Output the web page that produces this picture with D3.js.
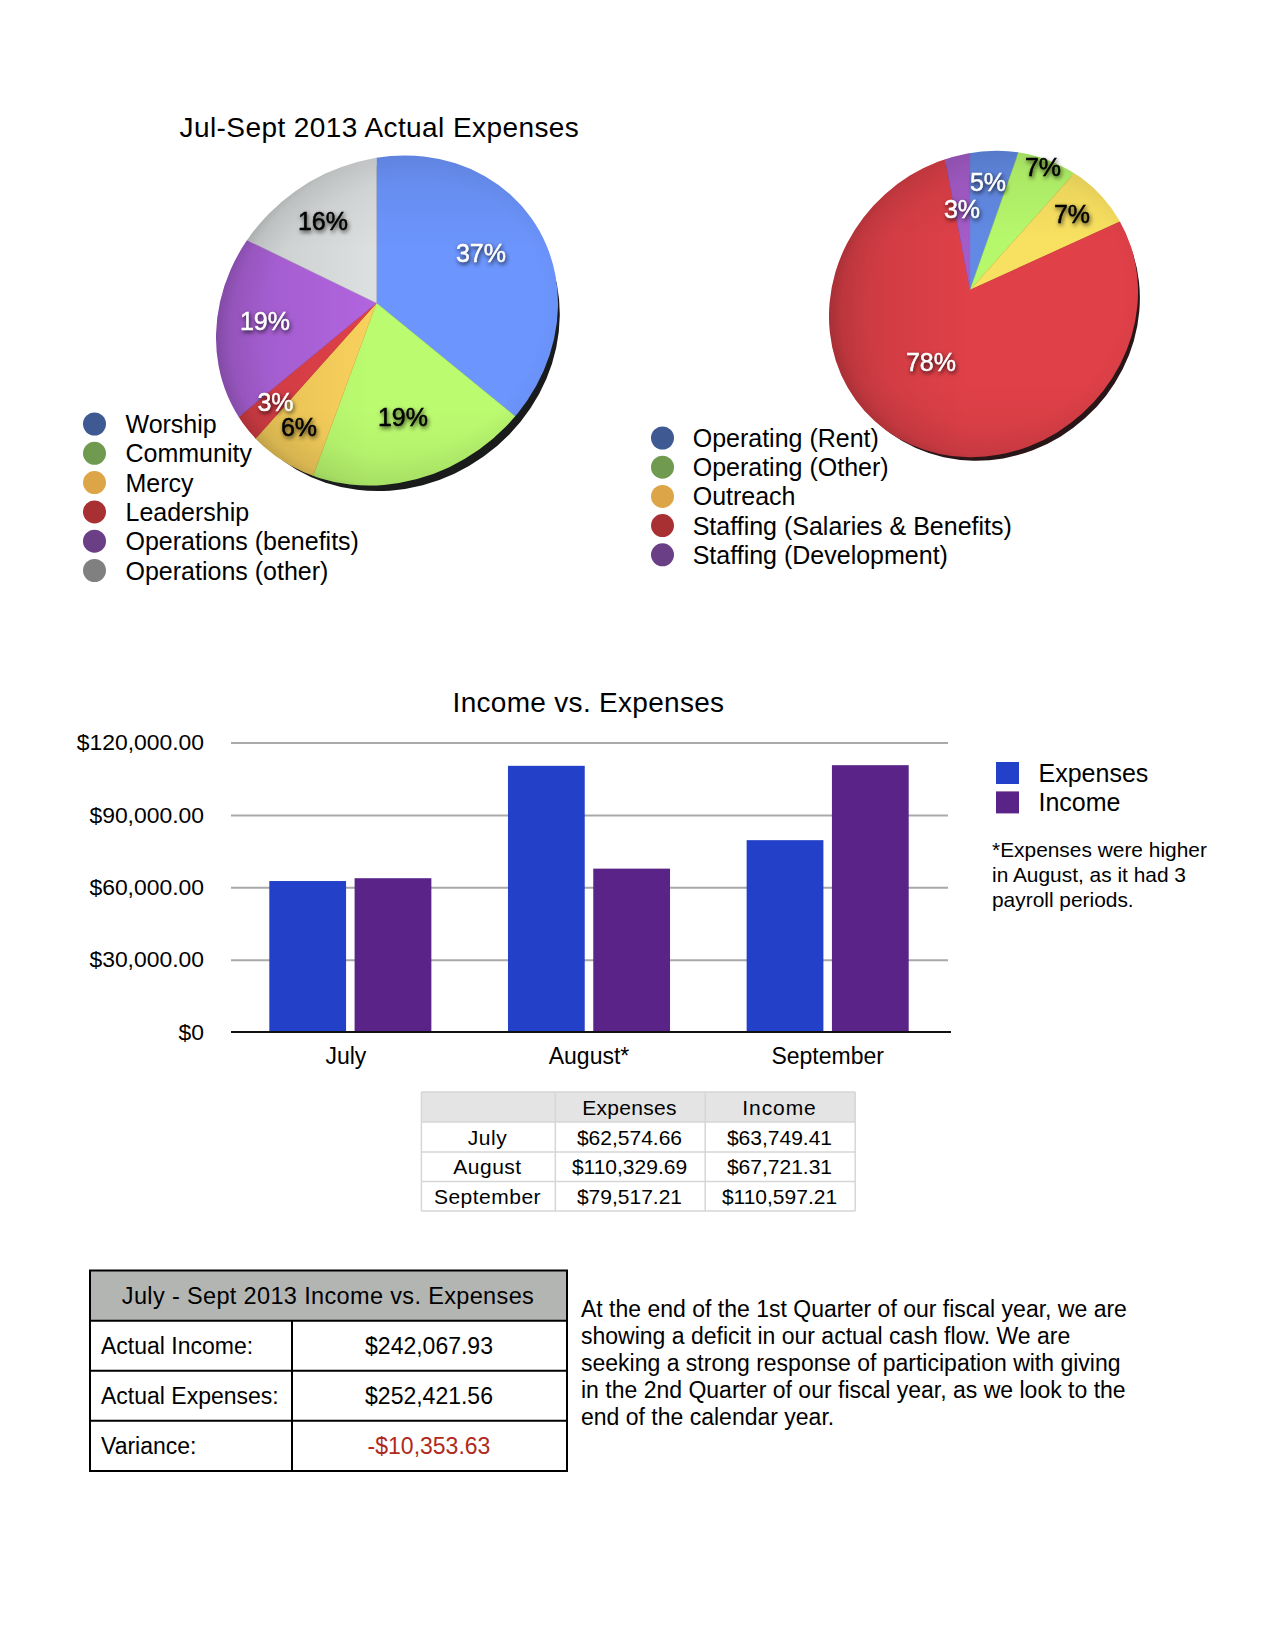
<!DOCTYPE html>
<html><head><meta charset="utf-8">
<script src="https://cdnjs.cloudflare.com/ajax/libs/d3/7.8.5/d3.min.js"></script>
<style>
html,body{margin:0;padding:0;background:#fff}
svg{display:block}
text{font-family:"Liberation Sans",Arial,sans-serif;fill:#000}
</style></head><body>
<svg id="c" width="1275" height="1650" viewBox="0 0 1275 1650"></svg>
<script>
// ---------- data ----------
const pie1Categories = ["Worship","Community","Mercy","Leadership","Operations (benefits)","Operations (other)"];
const pie1Shares = [35.9,19.7,6.0,2.4,18.2,17.8];
const pie1Labels = ["37%","19%","6%","3%","19%","16%"];
const pie2Categories = ["Operating (Rent)","Operating (Other)","Outreach","Staffing (Salaries & Benefits)","Staffing (Development)"];
const pie2Shares = [5.4,6.2,6.6,78.8,3];
const pie2Labels = ["5%","7%","7%","78%","3%"];
const months = ["July","August*","September"];
const tableMonths = ["July","August","September"];
const expenses = [62574.66,110329.69,79517.21];
const income = [63749.41,67721.31,110597.21];
const barSeries = ["Expenses","Income"];
const yTicks = [0,30000,60000,90000,120000];
const summaryRows = ["Actual Income:","Actual Expenses:","Variance:"];
const summaryValues = ["$242,067.93","$252,421.56","-$10,353.63"];
const noteLines = ["*Expenses were higher","in August, as it had 3","payroll periods."];
const paragraph = ["At the end of the 1st Quarter of our fiscal year, we are","showing a deficit in our actual cash flow. We are","seeking a strong response of participation with giving","in the 2nd Quarter of our fiscal year, as we look to the","end of the calendar year."];

const pie1Fill = ["#6c95fd","#bbfb70","#f8d05c","#e04048","#b064de","#dcdfdf"];
const pie1Legend = ["#3f5a92","#6f9a50","#dca548","#a83032","#6a3f85","#808080"];
const pie1Ink = ["#fff","#000","#000","#fff","#fff","#000"];
const pie2Fill = ["#628ae4","#b6f86c","#f8e060","#e04048","#a45cc8"];
const pie2Legend = ["#3f5a92","#6f9a50","#dca548","#a83032","#6a3f85"];
const pie2Ink = ["#fff","#000","#000","#fff","#fff"];

const svg = d3.select("#c");
const defs = svg.append("defs");

const txt = (g,x,y,s,size,anchor="start",extra={}) => {
  const t = g.append("text").attr("x",x).attr("y",y).attr("font-size",size).attr("text-anchor",anchor).text(s);
  Object.entries(extra).forEach(([k,v])=>t.style(k,v));
  return t;
};

// shading
const rim = defs.append("radialGradient").attr("id","rim").attr("cx","54%").attr("cy","52%").attr("r","56%");
[[0,0],[.74,0],[.9,.05],[.98,.16],[1,.28]].forEach(([o,a])=>rim.append("stop").attr("offset",o).attr("stop-color","#000").attr("stop-opacity",a));
const side = defs.append("linearGradient").attr("id","side").attr("x1","0").attr("x2","1").attr("y1","0").attr("y2","0");
[[0,.14],[.2,.06],[.45,0]].forEach(([o,a])=>side.append("stop").attr("offset",o).attr("stop-color","#000").attr("stop-opacity",a));
const vert = defs.append("linearGradient").attr("id","vert").attr("x1","0").attr("x2","0").attr("y1","0").attr("y2","1");
[[0,.09],[.3,0],[.75,0],[1,.07]].forEach(([o,a])=>vert.append("stop").attr("offset",o).attr("stop-color","#000").attr("stop-opacity",a));

function drawPie(id,cfg){
  const g = svg.append("g");
  const {ex,ey,a,b,rot,ax,ay,sdx,sdy,sda,sd,shares,fills,labels,ink,lab,cats,legendCols,lx,tx,ly} = cfg;
  const el = (sel,cx,cy,ra) => sel.append("ellipse").attr("cx",cx).attr("cy",cy).attr("rx",ra).attr("ry",b)
    .attr("transform",`rotate(${rot},${cx},${cy})`);
  el(g,ex+sdx,ey+sdy,a-sda).attr("fill",sd);
  el(defs.append("clipPath").attr("id",id),ex,ey,a);
  const arcs = d3.pie().sort(null)(shares);
  const arc = d3.arc().innerRadius(0).outerRadius(600);
  const sl = g.append("g").attr("clip-path",`url(#${id})`);
  sl.append("g").attr("transform",`translate(${ax},${ay})`).selectAll("path").data(arcs).join("path")
    .attr("d",arc).attr("fill",(d,i)=>fills[i]).attr("stroke",(d,i)=>fills[i]).attr("stroke-width",.4);
  ["side","vert"].forEach(n=>sl.append("rect").attr("x",ex-a).attr("y",ey-a).attr("width",2*a).attr("height",2*a).attr("fill",`url(#${n})`));
  el(sl,ex,ey,a).attr("fill","url(#rim)");
  labels.forEach((s,i)=>{
    txt(g,lab[i][0],lab[i][1],s,25,"middle",{
      filter:"drop-shadow(1px 2px 2px rgba(0,0,0,.75))",fill:ink[i],stroke:ink[i],"stroke-width":"0.5px"
    }).attr("dy","0.36em");
  });
  const lg = svg.append("g");
  cats.forEach((c,i)=>{
    const y = ly + i*cfg.ls;
    lg.append("circle").attr("cx",lx).attr("cy",y).attr("r",11.5).attr("fill",legendCols[i]);
    txt(lg,tx,y,c,25).attr("dy","0.36em");
  });
}

txt(svg,179.5,137,"Jul-Sept 2013 Actual Expenses",28).style("letter-spacing","0.42px");

drawPie("p1",{ex:387,ey:320.5,a:177,b:158.6,rot:-35.5,ax:376.5,ay:303,sdx:4.5,sdy:7,sda:4,sd:"#1a1c1c",
  shares:pie1Shares,fills:pie1Fill,labels:pie1Labels,ink:pie1Ink,
  lab:[[481,253],[403,417],[299,427],[275.5,402],[265,321],[323,221]],
  cats:pie1Categories,legendCols:pie1Legend,lx:94.5,tx:125.5,ly:424,ls:29.3});
drawPie("p2",{ex:983.5,ey:304,a:160,b:147.5,rot:-42,ax:970,ay:290,sdx:3,sdy:4.5,sda:2,sd:"#2a1618",
  shares:pie2Shares,fills:pie2Fill,labels:pie2Labels,ink:pie2Ink,
  lab:[[988,182],[1043,167],[1072,214],[931,362],[962,209]],
  cats:pie2Categories,legendCols:pie2Legend,lx:662.5,tx:692.7,ly:438,ls:29.2});

// ---------- bar chart ----------
const bar = svg.append("g");
const y = d3.scaleLinear().domain([0,120000]).range([1032,742.5]);
const x0 = d3.scaleBand().domain(months).range([231,947]).paddingInner(.321).paddingOuter(.1605);
const x1 = d3.scaleBand().domain(barSeries).range([0,x0.bandwidth()]).paddingInner(.1).paddingOuter(0);
const barColor = d3.scaleOrdinal().domain(barSeries).range(["#2340c8","#5a2387"]);
const fmtY = v => v===0 ? "$0" : "$"+d3.format(",.2f")(v);

txt(bar,588.5,712,"Income vs. Expenses",28,"middle").style("letter-spacing","0.3px");

const yAxis = bar.append("g").attr("transform","translate(231,0)")
  .call(d3.axisLeft(y).tickValues(yTicks).tickFormat(fmtY).tickSize(0).tickPadding(27));
yAxis.select(".domain").remove();
yAxis.selectAll("text").attr("font-size",22.9);
yAxis.selectAll("line").attr("x2",717).attr("stroke","#a9a9a9").attr("stroke-width",2).filter(d=>d===0).remove();

const groups = bar.selectAll("g.grp").data(months).join("g").attr("class","grp")
  .attr("transform",d=>`translate(${x0(d)},0)`);
groups.selectAll("rect").data((m,i)=>[["Expenses",expenses[i]],["Income",income[i]]]).join("rect")
  .attr("x",d=>x1(d[0])).attr("width",x1.bandwidth())
  .attr("y",d=>y(d[1])).attr("height",d=>y(0)-y(d[1])).attr("fill",d=>barColor(d[0]));

bar.append("line").attr("x1",231).attr("x2",951).attr("y1",y(0)).attr("y2",y(0)).attr("stroke","#111").attr("stroke-width",2);

const xAxis = bar.append("g").attr("transform","translate(0,1032)")
  .call(d3.axisBottom(x0).tickSize(0).tickPadding(16));
xAxis.select(".domain").remove();
xAxis.selectAll("text").attr("font-size",23).attr("dx",(d,i)=>i===0?-4.5:0);

barSeries.forEach((s,i)=>{
  const yy = 762 + i*29.4;
  bar.append("rect").attr("x",996).attr("y",yy).attr("width",23).attr("height",22).attr("fill",barColor(s));
  txt(bar,1038.5,yy+11,s,25).attr("dy","0.36em");
});
noteLines.forEach((s,i)=>txt(bar,992,857+i*25,s,20.9));

// ---------- small table ----------
const tb = svg.append("g");
const colX = [421.4,555.3,705.2,855.2];
const rowY = [1092,1122,1152,1181.5,1211];
tb.append("rect").attr("x",colX[0]).attr("y",rowY[0]).attr("width",colX[3]-colX[0]).attr("height",rowY[1]-rowY[0]).attr("fill","#e4e4e4");
colX.forEach(v=>tb.append("line").attr("x1",v).attr("x2",v).attr("y1",rowY[0]).attr("y2",rowY[4]).attr("stroke","#d6d6d6").attr("stroke-width",1.5));
rowY.forEach(v=>tb.append("line").attr("x1",colX[0]).attr("x2",colX[3]).attr("y1",v).attr("y2",v).attr("stroke","#d6d6d6").attr("stroke-width",1.5));
const colC = [487.5,629.5,779.5];
barSeries.forEach((s,i)=>txt(tb,colC[i+1],(rowY[0]+rowY[1])/2,s,21,"middle",{"letter-spacing":i?"0.9px":"0.3px"}).attr("dy","0.36em"));
tableMonths.forEach((m,i)=>{
  const cy = (rowY[i+1]+rowY[i+2])/2;
  txt(tb,colC[0],cy,m,21,"middle",{"letter-spacing":"0.5px"}).attr("dy","0.36em");
  const f = d3.format(",.2f");
  txt(tb,colC[1],cy,"$"+f(expenses[i]),21,"middle").attr("dy","0.36em");
  txt(tb,colC[2],cy,"$"+f(income[i]),21,"middle").attr("dy","0.36em");
});

// ---------- summary table ----------
const sm = svg.append("g");
const sx = [90,292,567], sy = [1270.5,1320.7,1370.7,1420.7,1471];
sm.append("rect").attr("x",sx[0]).attr("y",sy[0]).attr("width",sx[2]-sx[0]).attr("height",sy[1]-sy[0]).attr("fill","#b3b5b2");
sy.forEach(v=>sm.append("line").attr("x1",sx[0]-1).attr("x2",sx[2]+1).attr("y1",v).attr("y2",v).attr("stroke","#000").attr("stroke-width",2));
sm.append("line").attr("x1",sx[0]).attr("x2",sx[0]).attr("y1",sy[0]).attr("y2",sy[4]).attr("stroke","#000").attr("stroke-width",2);
sm.append("line").attr("x1",sx[2]).attr("x2",sx[2]).attr("y1",sy[0]).attr("y2",sy[4]).attr("stroke","#000").attr("stroke-width",2);
sm.append("line").attr("x1",sx[1]).attr("x2",sx[1]).attr("y1",sy[1]).attr("y2",sy[4]).attr("stroke","#000").attr("stroke-width",2);
txt(sm,328,(sy[0]+sy[1])/2,"July - Sept 2013 Income vs. Expenses",23.5,"middle",{"letter-spacing":"0.35px"}).attr("dy","0.36em");
summaryRows.forEach((r,i)=>{
  const cy=(sy[i+1]+sy[i+2])/2;
  txt(sm,101,cy,r,23).attr("dy","0.36em");
  const t=txt(sm,429,cy,summaryValues[i],23,"middle").attr("dy","0.36em");
  if(i===2) t.style("fill","#b0291a");
});
paragraph.forEach((s,i)=>txt(svg,581,1316.5+i*27.1,s,23));
</script>
</body></html>
